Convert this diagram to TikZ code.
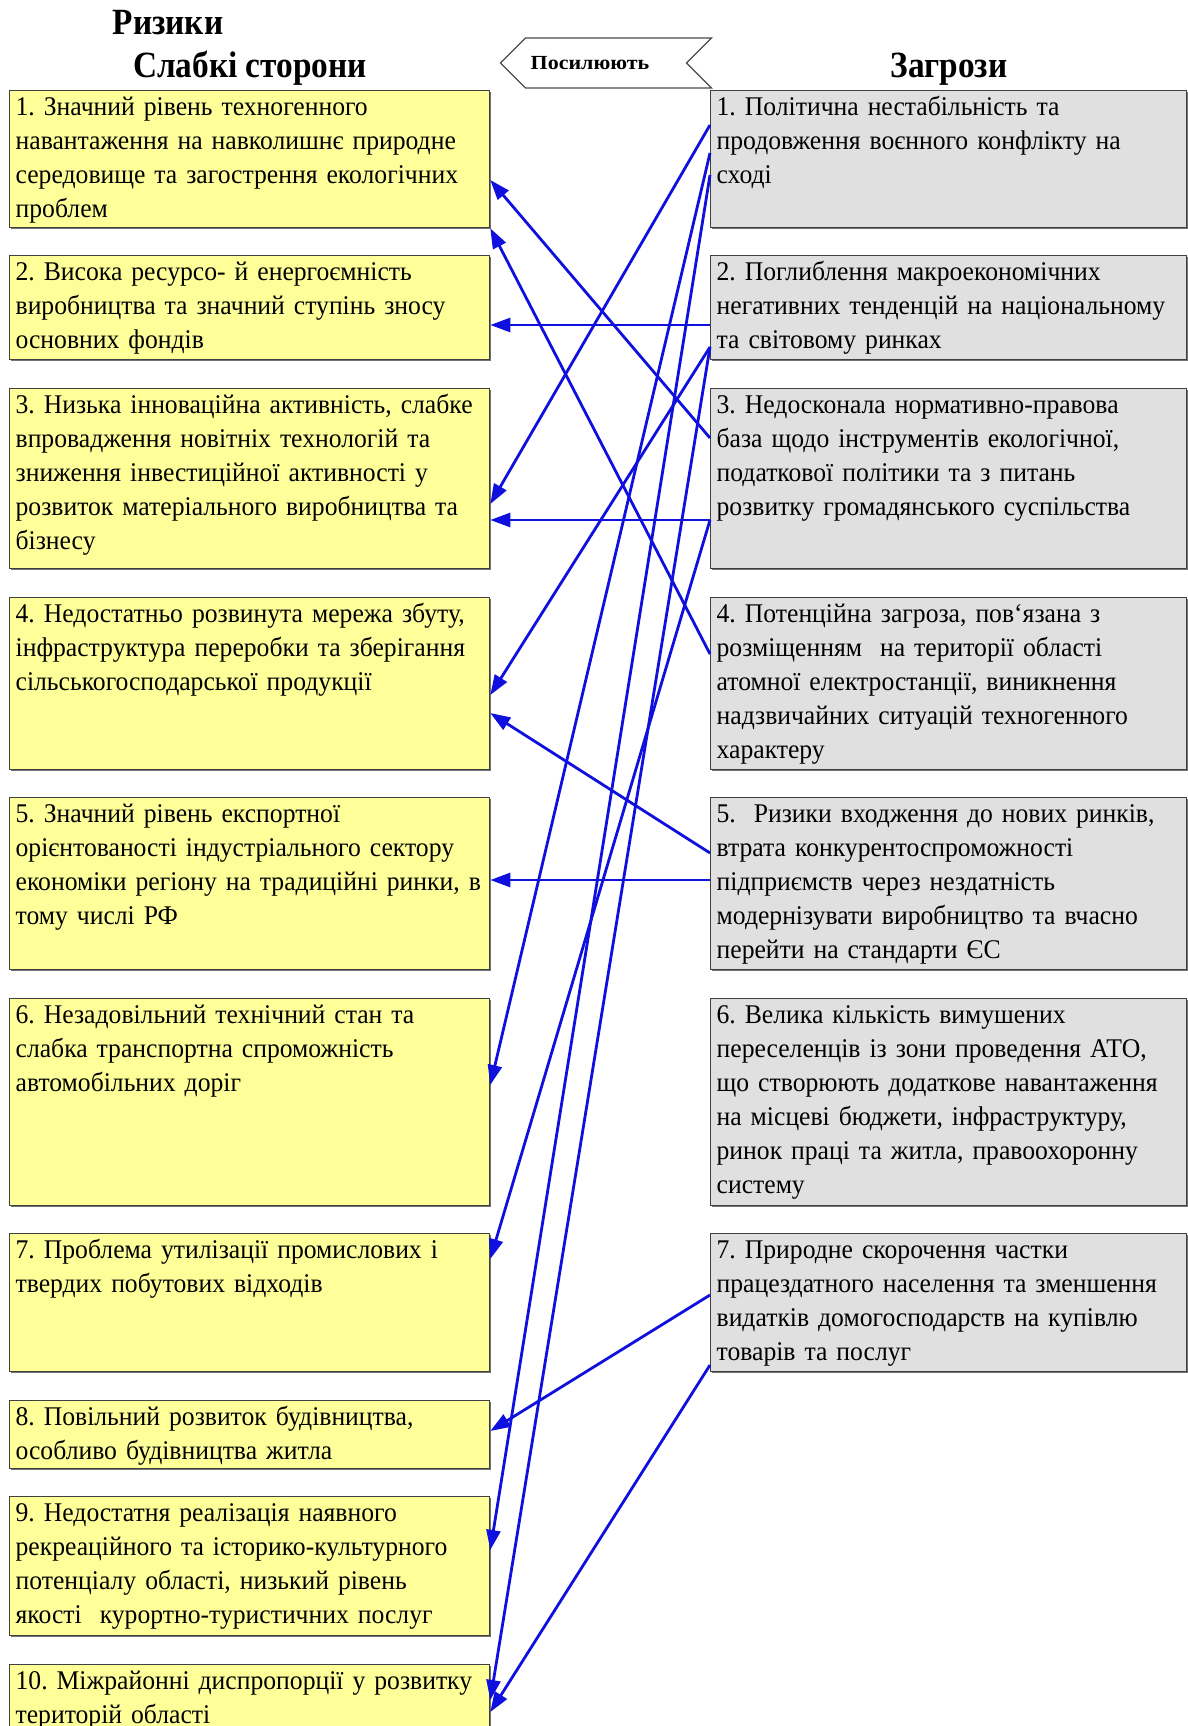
\documentclass[tikz,border=0pt]{standalone}
\usepackage{fontspec}
\setmainfont{Liberation Serif}[FakeStretch=0.95]
\newfontfamily\headfont[FakeStretch=0.9]{Liberation Serif}
\newfontfamily\tagfont[FakeStretch=1.1]{Liberation Serif}
\usetikzlibrary{arrows.meta,shapes.symbols,shadows}
\definecolor{weakfill}{RGB}{255,255,153}
\definecolor{threatfill}{RGB}{224,224,224}
\definecolor{linkblue}{RGB}{16,16,222}
\frenchspacing

\begin{document}
\begin{tikzpicture}[x=1pt,y=-1pt,
    box/.style={draw=black!75, line width=1.3pt, anchor=north west, align=left,
        inner xsep=6pt, inner ysep=5pt, text height=20pt,
        font=\fontsize{27}{34}\selectfont,
        drop shadow={shadow xshift=1.5pt, shadow yshift=-1.5pt, fill=black!55, opacity=1}},
    weak/.style={box, fill=weakfill, text width=468pt},
    threat/.style={box, fill=threatfill, text width=464pt},
    head/.style={anchor=base, font=\headfont\bfseries\fontsize{37}{40}\selectfont},
    link/.style={->, draw=linkblue, line width=2.8pt},
    >={Triangle[length=20pt,width=14pt]}]
    \useasboundingbox[fill=white] (0,0) rectangle (1187,1726);

    \node(risks)[head] at (168,35) {Ризики};
    \node(weakhead)[head] at (250,78) {Слабкі сторони};
    \node(threathead)[head] at (949,78) {Загрози};
    \node(amplify)[signal, signal to=west, signal from=east, signal pointer angle=90,
        draw=black!70, line width=1.2pt, fill=white, inner xsep=0pt,
        minimum width=211pt, minimum height=50pt,
        font=\tagfont\bfseries\fontsize{20}{22}\selectfont] at (606,63) {Посилюють\hspace{32pt}\null};

    \node(w1)[weak, text depth=107pt] at (9,90) {1. Значний рівень техногенного\\навантаження на навколишнє природне\\середовище та загострення екологічних\\проблем};
    \node(w2)[weak, text depth=74pt] at (9,255) {2. Висока ресурсо- й енергоємність\\виробництва та значний ступінь зносу\\основних фондів};
    \node(w3)[weak, text depth=150pt] at (9,388) {3. Низька інноваційна активність, слабке\\впровадження новітніх технологій та\\зниження інвестиційної активності у\\розвиток матеріального виробництва та\\бізнесу};
    \node(w4)[weak, text depth=142pt] at (9,597) {4. Недостатньо розвинута мережа збуту,\\інфраструктура переробки та зберігання\\сільськогосподарської продукції};
    \node(w5)[weak, text depth=142pt] at (9,797) {5. Значний рівень експортної\\орієнтованості індустріального сектору\\економіки регіону на традиційні ринки, в\\тому числі РФ};
    \node(w6)[weak, text depth=177pt] at (9,998) {6. Незадовільний технічний стан та\\слабка транспортна спроможність\\автомобільних доріг};
    \node(w7)[weak, text depth=108pt] at (9,1233) {7. Проблема утилізації промислових і\\твердих побутових відходів};
    \node(w8)[weak, text depth=38pt] at (9,1400) {8. Повільний розвиток будівництва,\\особливо будівництва житла};
    \node(w9)[weak, text depth=109pt] at (9,1496) {9. Недостатня реалізація наявного\\рекреаційного та історико-культурного\\потенціалу області, низький рівень\\якості~ курортно-туристичних послуг};
    \node(w10)[weak, text depth=70pt] at (9,1664) {10. Міжрайонні диспропорції у розвитку\\територій області};

    \node(t1)[threat, text depth=107pt] at (710,90) {1. Політична нестабільність та\\продовження воєнного конфлікту на\\сході};
    \node(t2)[threat, text depth=74pt] at (710,255) {2. Поглиблення макроекономічних\\негативних тенденцій на національному\\та світовому ринках};
    \node(t3)[threat, text depth=150pt] at (710,388) {3. Недосконала нормативно-правова\\база щодо інструментів екологічної,\\податкової політики та з питань\\розвитку громадянського суспільства};
    \node(t4)[threat, text depth=142pt] at (710,597) {4. Потенційна загроза, пов‘язана з\\розміщенням~ на території області\\атомної електростанції, виникнення\\надзвичайних ситуацій техногенного\\характеру};
    \node(t5)[threat, text depth=142pt] at (710,797) {5.~~Ризики входження до нових ринків,\\втрата конкурентоспроможності\\підприємств через нездатність\\модернізувати виробництво та вчасно\\перейти на стандарти ЄС};
    \node(t6)[threat, text depth=177pt] at (710,998) {6. Велика кількість вимушених\\переселенців із зони проведення АТО,\\що створюють додаткове навантаження\\на місцеві бюджети, інфраструктуру,\\ринок праці та житла, правоохоронну\\систему};
    \node(t7)[threat, text depth=108pt] at (710,1233) {7. Природне скорочення частки\\працездатного населення та зменшення\\видатків домогосподарств на купівлю\\товарів та послуг};

    \draw[link] ([yshift=-35pt]t1.north west) -- ([yshift=-116pt]w3.north east);
    \draw[link] ([yshift=-63pt]t1.north west) -- ([yshift=-87pt]w6.north east);
    \draw[link] ([yshift=-85pt]t1.north west) -- ([yshift=-54pt]w9.north east);
    \draw[link] ([yshift=-70pt]t2.north west) -- ([yshift=-70pt]w2.north east);
    \draw[link] ([yshift=-92pt]t2.north west) -- ([yshift=-98pt]w4.north east);
    \draw[link] ([yshift=-92pt]t2.north west) -- ([yshift=-36pt]w10.north east);
    \draw[link] ([yshift=-50pt]t3.north west) -- ([yshift=-90pt]w1.north east);
    \draw[link] ([yshift=-132pt]t3.north west) -- ([yshift=-132pt]w3.north east);
    \draw[link] ([yshift=-132pt]t3.north west) -- ([yshift=-26pt]w7.north east);
    \draw[link] ([yshift=-57pt]t4.north west) -- (w1.south east);
    \draw[link] ([yshift=-56pt]t5.north west) -- ([yshift=-116pt]w4.north east);
    \draw[link] ([yshift=-83pt]t5.north west) -- ([yshift=-83pt]w5.north east);
    \draw[link] ([yshift=-62pt]t7.north west) -- ([yshift=-31pt]w8.north east);
    \draw[link] ([yshift=-132pt]t7.north west) -- ([yshift=-48pt]w10.north east);
\end{tikzpicture}
\end{document}
